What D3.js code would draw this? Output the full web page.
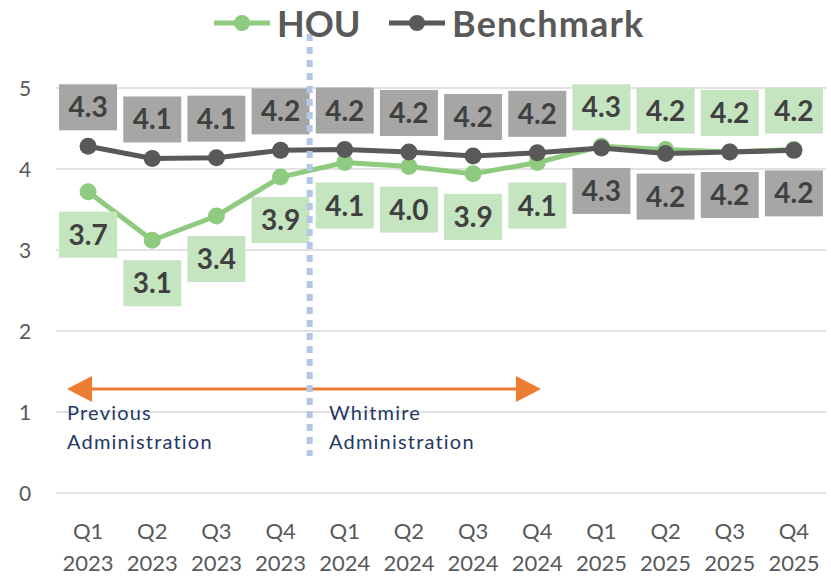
<!DOCTYPE html>
<html>
<head>
<meta charset="utf-8">
<script src="https://cdn.jsdelivr.net/npm/d3@7"></script>
<style>
  body { margin: 0; background: #fff; }
  text { font-family: Lato, "Open Sans", sans-serif; }
</style>
</head>
<body>
<div id="chart-area"></div>
<script>
// Data //
const quarters = ["Q1", "Q2", "Q3", "Q4", "Q1", "Q2", "Q3", "Q4", "Q1", "Q2", "Q3", "Q4"];
const years = ["2023", "2023", "2023", "2023", "2024", "2024", "2024", "2024", "2025", "2025", "2025", "2025"];
const hou = [3.72, 3.12, 3.42, 3.90, 4.08, 4.03, 3.94, 4.08, 4.28, 4.24, 4.21, 4.24];
const benchmark = [4.28, 4.13, 4.14, 4.23, 4.24, 4.21, 4.16, 4.20, 4.26, 4.19, 4.21, 4.23];
const yTicks = [0, 1, 2, 3, 4, 5];

const W = 831, H = 576;
const plot = {left: 56, right: 826, top: 88, bottom: 493};

var svg = d3.select("#chart-area")
  .append("svg")
  .attr("width", W)
  .attr("height", H);

var idx = d3.range(quarters.length);

// X scale (bands, points sit in the middle)
var xScale = d3.scaleBand()
  .domain(idx)
  .range([plot.left, plot.right]);
var xc = i => xScale(i) + xScale.bandwidth() / 2;

// Y scale
var yScale = d3.scaleLinear()
  .domain([0, 5])
  .range([plot.bottom, plot.top]);

// Gridlines
svg.append("g")
  .selectAll("line")
  .data(yTicks)
  .enter().append("line")
  .attr("x1", plot.left)
  .attr("x2", plot.right)
  .attr("y1", d => yScale(d))
  .attr("y2", d => yScale(d))
  .attr("stroke", "#d9d9d9")
  .attr("stroke-width", 1.5);

// Y axis
var yAxisCall = d3.axisLeft(yScale)
  .tickValues(yTicks)
  .tickSize(0)
  .tickPadding(0)
  .tickFormat(d3.format("d"));
var yAxis = svg.append("g")
  .attr("transform", "translate(31,0)")
  .call(yAxisCall);
yAxis.select(".domain").remove();
yAxis.selectAll("text")
  .attr("font-size", "21px")
  .attr("fill", "#595959")
  .attr("text-anchor", "middle")
  .attr("x", -6)
  .attr("dy", "0.36em");

// X axis (two line labels)
var xAxisCall = d3.axisBottom(xScale).tickSize(0).tickFormat("");
var xAxis = svg.append("g")
  .attr("transform", "translate(0," + plot.bottom + ")")
  .call(xAxisCall);
xAxis.select(".domain").remove();
xAxis.selectAll(".tick").each(function(i) {
  var t = d3.select(this).append("text")
    .attr("text-anchor", "middle")
    .attr("font-size", "22px")
    .attr("fill", "#595959");
  t.append("tspan").attr("x", 0).attr("y", 46).text(quarters[i]);
  t.append("tspan").attr("x", 0).attr("y", 78).text(years[i]);
});

// Lines
var line = d3.line()
  .x((d, i) => xc(i))
  .y(d => yScale(d));

function drawSeries(values, color) {
  svg.append("path")
    .datum(values)
    .attr("fill", "none")
    .attr("stroke", color)
    .attr("stroke-width", 5)
    .attr("stroke-linejoin", "round")
    .attr("d", line);
  svg.append("g").selectAll("circle")
    .data(values)
    .enter().append("circle")
    .attr("cx", (d, i) => xc(i))
    .attr("cy", d => yScale(d))
    .attr("r", 8.5)
    .attr("fill", color);
}
drawSeries(hou, "#8fcb7f");
drawSeries(benchmark, "#595959");

// Data labels
function drawLabels(values, fill, aboveFirst) {
  var lbl = svg.append("g").selectAll("g")
    .data(values)
    .enter().append("g")
    .attr("transform", (d, i) => {
      var above = (i < 8) === aboveFirst;
      var cy = yScale(d) + (above ? -39 : 43);
      return "translate(" + xc(i) + "," + cy + ")";
    });
  lbl.append("rect")
    .attr("x", -29)
    .attr("y", -23)
    .attr("width", 58)
    .attr("height", 46)
    .attr("fill", fill);
  lbl.append("text")
    .attr("text-anchor", "middle")
    .attr("y", 10)
    .attr("font-size", "28px")
    .attr("font-weight", "bold")
    .attr("fill", "#404040")
    .text(d => d3.format(".1f")(d));
}
drawLabels(hou, "#c5e4c0", false);
drawLabels(benchmark, "#a6a6a6", true);

// Administration arrow + notes
var arrowY = 389;
svg.append("line")
  .attr("x1", 88).attr("x2", 518)
  .attr("y1", arrowY).attr("y2", arrowY)
  .attr("stroke", "#ed7d31")
  .attr("stroke-width", 3);
svg.append("path")
  .attr("d", "M67," + arrowY + " L92," + (arrowY - 13) + " L92," + (arrowY + 13) + " Z")
  .attr("fill", "#ed7d31");
svg.append("path")
  .attr("d", "M541," + arrowY + " L516," + (arrowY - 13) + " L516," + (arrowY + 13) + " Z")
  .attr("fill", "#ed7d31");

function note(x, lines) {
  var t = svg.append("text")
    .attr("font-size", "20px")
    .attr("letter-spacing", "1.2px")
    .attr("fill", "#1f3864");
  lines.forEach((s, k) => {
    t.append("tspan").attr("x", x).attr("y", 420 + k * 29).text(s);
  });
}
note(67, ["Previous", "Administration"]);
note(329, ["Whitmire", "Administration"]);

// Dashed divider between the administrations
var divX = xScale(4) - 3;
svg.append("line")
  .attr("x1", divX).attr("x2", divX)
  .attr("y1", 34).attr("y2", 456)
  .attr("stroke", "#b4c7e7")
  .attr("stroke-width", 6)
  .attr("stroke-dasharray", "7,6");

// Legend
var legend = [
  {name: "HOU", color: "#8fcb7f", x: 214, ls: 0},
  {name: "Benchmark", color: "#595959", x: 389, ls: 1.2}
];
var lg = svg.append("g").selectAll("g")
  .data(legend)
  .enter().append("g")
  .attr("transform", d => "translate(" + d.x + ",23)");
lg.append("line")
  .attr("x1", 0).attr("x2", 56)
  .attr("stroke", d => d.color)
  .attr("stroke-width", 5);
lg.append("circle")
  .attr("cx", 28)
  .attr("r", 8)
  .attr("fill", d => d.color);
lg.append("text")
  .attr("x", 63)
  .attr("y", 14)
  .attr("font-size", "36px")
  .attr("font-weight", "bold")
  .attr("letter-spacing", d => d.ls + "px")
  .attr("fill", "#595959")
  .text(d => d.name);
</script>
</body>
</html>
